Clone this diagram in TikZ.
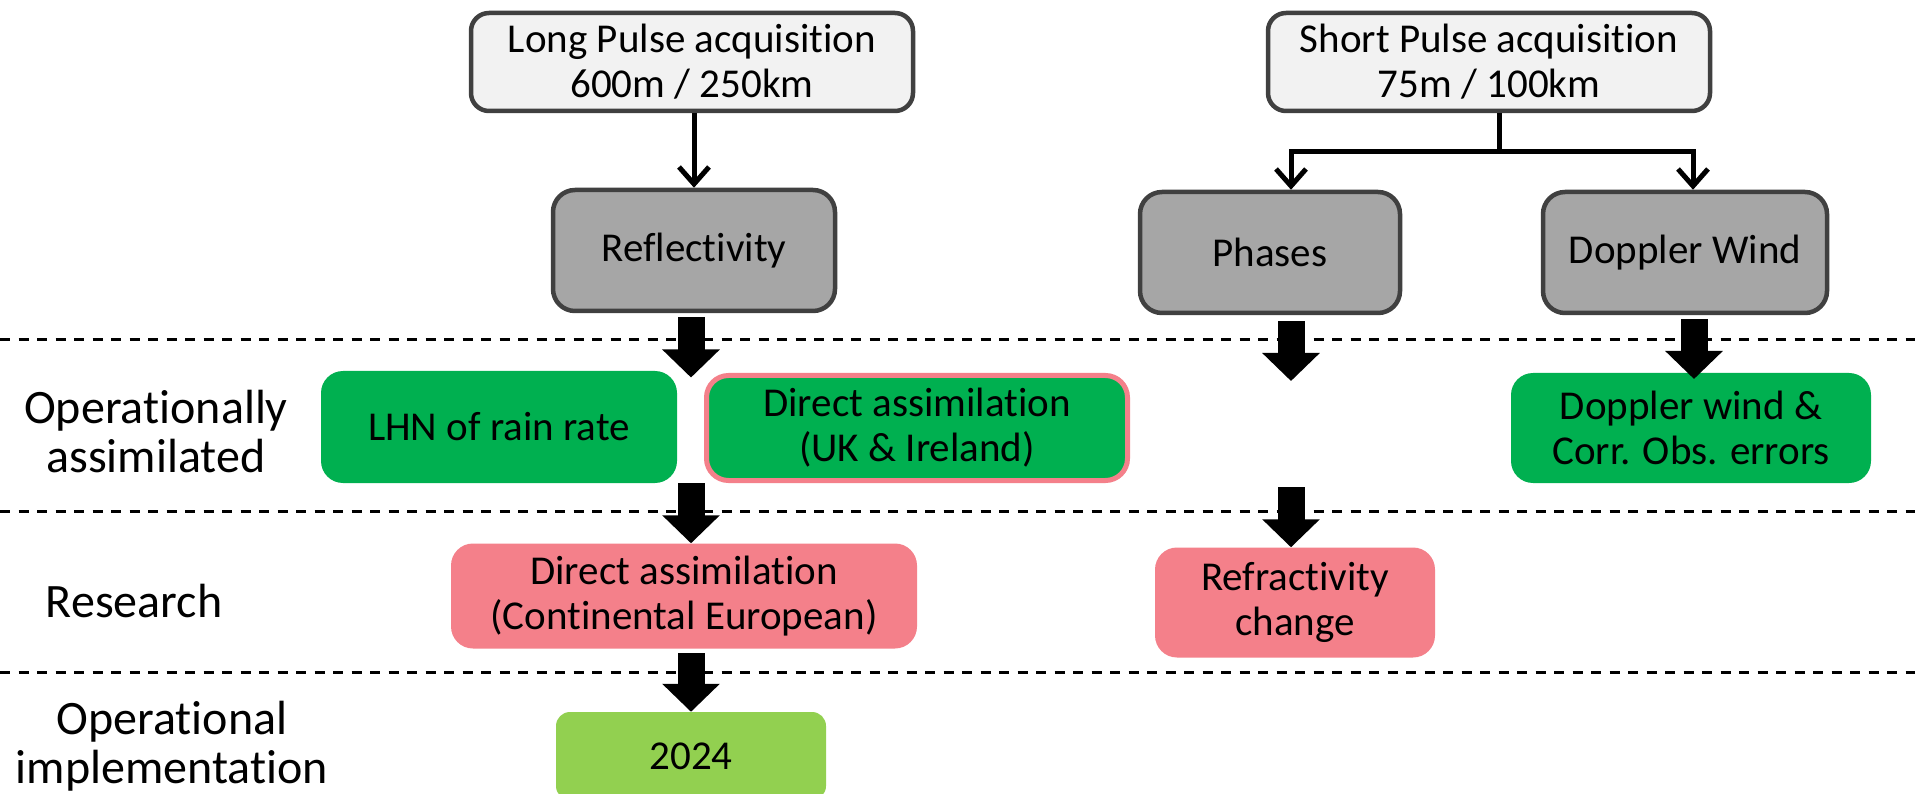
\documentclass[tikz,border=0pt]{standalone}
\usepackage{fontspec}
\setmainfont{Carlito}[Ligatures={NoCommon,NoContextual}]
\usetikzlibrary{arrows.meta,calc}
\definecolor{boxline}{HTML}{404040}
\definecolor{lpfill}{HTML}{F2F2F2}
\definecolor{midgray}{HTML}{A6A6A6}
\definecolor{opgreen}{HTML}{00B050}
\definecolor{respink}{HTML}{F4808A}
\definecolor{impgreen}{HTML}{92D050}
\tikzset{
  basebox/.style={rounded corners=18pt, align=center, inner sep=0pt,
    font=\fontsize{41}{45}\selectfont},
  topbox/.style={basebox, draw=boxline, line width=4.5pt, fill=lpfill},
  graybox/.style={basebox, draw=boxline, line width=4.5pt, fill=midgray, rounded corners=22pt},
  opbox/.style={basebox, fill=opgreen, rounded corners=22pt},
  resbox/.style={basebox, fill=respink, rounded corners=22pt},
  impbox/.style={basebox, fill=impgreen, rounded corners=14pt},
  rowlabel/.style={align=center, inner sep=0pt, font=\fontsize{48}{49}\selectfont},
  sep/.style={line width=3pt, dash pattern=on 10pt off 8.5pt},
  thinline/.style={line width=5pt},
  thinarrow/.style={thinline, -{Straight Barb[length=17pt,width=30pt,line width=5pt]}},
  blockarrow/.style={line width=27pt, -{Triangle[length=28pt,width=56pt]}},
}
\begin{document}
\begin{tikzpicture}[x=1pt,y=-1pt]
\useasboundingbox (0,0) rectangle (1915,794);
\clip (0,0) rectangle (1915,794);
\fill[white] (0,0) rectangle (1915,794);

% separators
\draw[sep] (0,340) -- (1915,340);
\draw[sep] (0,511) -- (1915,511);
\draw[sep] (0,672.5) -- (1915,672.5);

% row labels
\node[rowlabel] (lop) at (156,432) {Operationally\\assimilated};
\node[rowlabel] (lres) at (134,601) {Research};
\node[rowlabel] (limp) at (172,746) {Operational\\implementation};

% top boxes
\node[topbox, minimum width=442pt, minimum height=98pt] (lp) at (692,62) {Long Pulse acquisition\\600m / 250km};
\node[topbox, minimum width=442pt, minimum height=98pt] (sp) at (1489,62) {Short Pulse acquisition\\75m / 100km};

% gray boxes
\node[graybox, minimum width=282pt, minimum height=121pt] (refl) at (694,250.5) {Reflectivity};
\node[graybox, minimum width=260pt, minimum height=121pt] (ph) at (1270,252.5) {Phases};
\node[graybox, minimum width=284pt, minimum height=121pt] (dw) at (1685,252.5) {Doppler Wind};

% operational row
\node[opbox, minimum width=356pt, minimum height=112pt] (lhn) at (499,427) {LHN of rain rate};
\node[opbox, draw=respink, line width=5pt, minimum width=421pt, minimum height=105pt] (uk) at (917,428) {Direct assimilation\\(UK \& Ireland)};
\node[opbox, minimum width=360pt, minimum height=110pt] (dc) at (1691,428) {Doppler wind \&\\Corr. Obs. errors};

% research row
\node[resbox, minimum width=466pt, minimum height=105pt] (ce) at (684,596) {Direct assimilation\\(Continental European)};
\node[resbox, minimum width=280pt, minimum height=110pt] (rc) at (1295,602.5) {Refractivity\\change};

% implementation row
\node[impbox, minimum width=270pt, minimum height=88pt] (y24) at (691,756) {2024};

% thin connectors
\draw[thinarrow] (lp.south -| refl.north) -- (refl.north);
\coordinate (spj) at (1499,151.5);
\coordinate (phj) at (1291,151.5);
\coordinate (dwj) at (1693,151.5);
\draw[thinline] (spj |- sp.south) -- (spj);
\draw[thinarrow, line join=miter] (spj) -- (phj) -- (phj |- ph.north);
\draw[thinarrow, line join=miter] (spj) -- (dwj) -- (dwj |- dw.north);

% block arrows
\coordinate (b1s) at (691,317);
\coordinate (b1e) at (691,377.5);
\coordinate (b2s) at (691,483);
\coordinate (b3s) at (691,653);
\draw[blockarrow] (b1s) -- (b1e);
\draw[blockarrow] (b2s) -- (b2s |- ce.north);
\draw[blockarrow] (b3s) -- (b3s |- y24.north);

\coordinate (p1s) at (1291,321.5);
\coordinate (p1e) at (1291,381);
\coordinate (p2s) at (1291,487);
\draw[blockarrow] (p1s) -- (p1e);
\draw[blockarrow] (p2s) -- (p2s |- rc.north);

\coordinate (d1s) at (1694,319);
\coordinate (d1e) at (1694,379);
\draw[blockarrow] (d1s) -- (d1e);
\end{tikzpicture}
\end{document}
